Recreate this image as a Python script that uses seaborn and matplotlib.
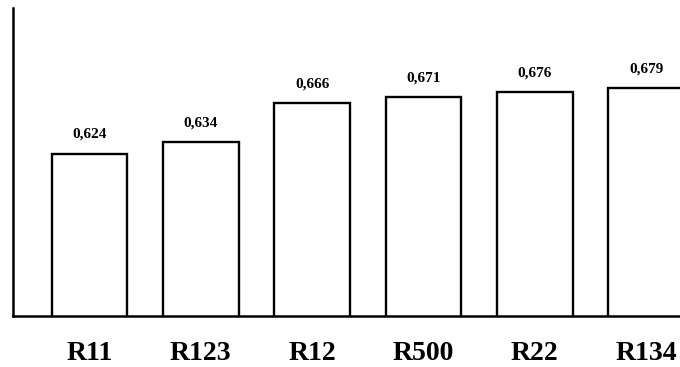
import matplotlib
matplotlib.use("Agg")
import matplotlib.pyplot as plt
import seaborn as sns
import pandas as pd

# Refrigerants and their values
refrigerants = ["R11", "R123", "R12", "R500", "R22", "R134"]
values = [0.624, 0.634, 0.666, 0.671, 0.676, 0.679]
value_labels = ["0,624", "0,634", "0,666", "0,671", "0,676", "0,679"]

df = pd.DataFrame({"refrigerant": refrigerants, "value": values})

sns.set_theme(style="white")
plt.rcParams["font.family"] = ["Liberation Serif", "DejaVu Serif"]
plt.rcParams["text.color"] = "black"
plt.rcParams["xtick.color"] = "black"

fig = plt.figure(figsize=(6.8, 3.67), dpi=100)
ax = fig.add_axes([0.0191, 0.139, 0.981, 0.839])

sns.barplot(data=df, x="refrigerant", y="value", order=refrigerants,
            color="white", edgecolor="black", linewidth=1.7, width=0.68,
            saturation=1, ax=ax)

for i, (v, lab) in enumerate(zip(values, value_labels)):
    ax.annotate(lab, (i, v), xytext=(0, 9), textcoords="offset points",
                ha="center", va="bottom", fontsize=11, fontweight="bold",
                color="black")

ax.set_ylim(0.4877, 0.746)
ax.set_xlim(-0.687, 5.305)
ax.set_xlabel("")
ax.set_ylabel("")
ax.set_yticks([])
ax.tick_params(axis="x", length=0, pad=18, labelsize=20, labelcolor="black")
for t in ax.get_xticklabels():
    t.set_fontweight("bold")

for s in ["top", "right"]:
    ax.spines[s].set_visible(False)
for s in ["left", "bottom"]:
    ax.spines[s].set_color("black")
    ax.spines[s].set_linewidth(1.8)

fig.savefig("out.png", dpi=100, facecolor="white")
